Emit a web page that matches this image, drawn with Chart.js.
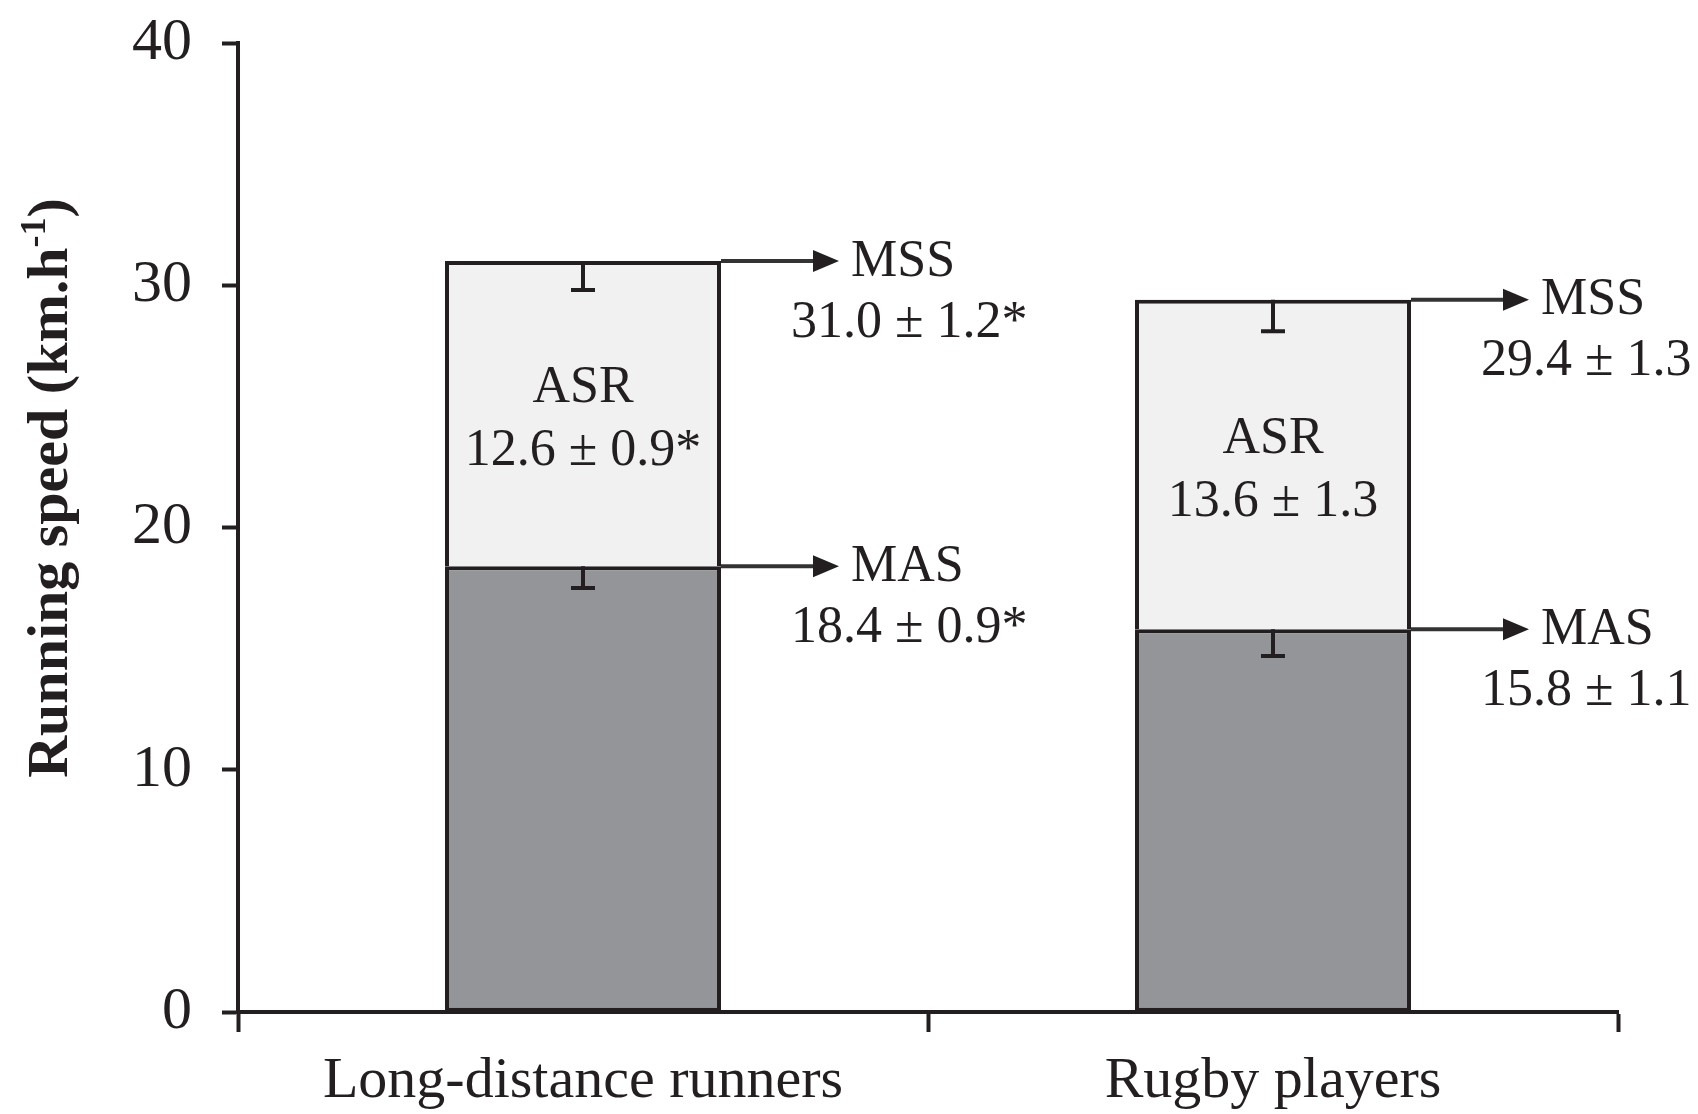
<!DOCTYPE html>
<html>
<head>
<meta charset="utf-8">
<script src="https://cdn.jsdelivr.net/npm/chart.js@4.4.1/dist/chart.umd.min.js"></script>
<style>
  html, body { margin: 0; padding: 0; background: #fff; }
  #wrap { width: 1698px; height: 1114px; }
</style>
</head>
<body>
<div id="wrap"><canvas id="chart"></canvas></div>
<script>
const categories = ['Long-distance runners', 'Rugby players'];
const masValues = [18.4, 15.8];
const asrValues = [12.6, 13.6];
const mssValues = [31.0, 29.4];
const masSd = [0.9, 1.1];
const mssSd = [1.2, 1.3];
const masLabels = ['18.4 ± 0.9*', '15.8 ± 1.1'];
const asrLabels = ['12.6 ± 0.9*', '13.6 ± 1.3'];
const mssLabels = ['31.0 ± 1.2*', '29.4 ± 1.3'];
const yTicks = [0, 10, 20, 30, 40];
const yTitle = 'Running speed (km.h';
const yTitleSup = '-1';

const ink = '#231f20';
const serif = '"Liberation Serif", "Times New Roman", serif';

function drawErrorBar(ctx, x, top, bottom) {
  ctx.beginPath();
  ctx.moveTo(x, top);
  ctx.lineTo(x, bottom);
  ctx.moveTo(x - 12, bottom);
  ctx.lineTo(x + 12, bottom);
  ctx.stroke();
}

function drawCallout(ctx, x0, y, name, valueText) {
  const tip = x0 + 118;
  ctx.strokeStyle = '#333';
  ctx.beginPath();
  ctx.moveTo(x0, y);
  ctx.lineTo(tip - 20, y);
  ctx.stroke();
  ctx.beginPath();
  ctx.moveTo(tip, y);
  ctx.lineTo(tip - 26, y - 11);
  ctx.lineTo(tip - 26, y + 11);
  ctx.closePath();
  ctx.fill();
  ctx.textAlign = 'left';
  ctx.textBaseline = 'middle';
  ctx.fillText(name, x0 + 130, y + 1);
  ctx.fillText(valueText, x0 + 70, y + 62);
}

const figureExtras = {
  id: 'figureExtras',
  afterDatasetsDraw(chart) {
    const ctx = chart.ctx;
    const yScale = chart.scales.y;
    const lowerMeta = chart.getDatasetMeta(0);
    ctx.save();
    ctx.lineWidth = 4;
    ctx.fillStyle = ink;
    ctx.font = `52px ${serif}`;
    categories.forEach((cat, i) => {
      const bar = lowerMeta.data[i];
      const cx = bar.x;
      const right = bar.x + bar.width / 2;
      const masY = yScale.getPixelForValue(masValues[i]);
      const mssY = yScale.getPixelForValue(mssValues[i]);

      ctx.strokeStyle = ink;
      drawErrorBar(ctx, cx, masY, yScale.getPixelForValue(masValues[i] - masSd[i]));
      drawErrorBar(ctx, cx, mssY, yScale.getPixelForValue(mssValues[i] - mssSd[i]));

      // ASR text inside the upper segment
      const mid = (masY + mssY) / 2;
      ctx.textAlign = 'center';
      ctx.textBaseline = 'middle';
      ctx.fillText('ASR', cx, mid - 25);
      ctx.fillText(asrLabels[i], cx, mid + 38);

      drawCallout(ctx, right, mssY, 'MSS', mssLabels[i]);
      drawCallout(ctx, right, masY, 'MAS', masLabels[i]);
    });
    ctx.restore();
  },
  afterDraw(chart) {
    // y axis title with superscript
    const ctx = chart.ctx;
    const big = `bold 58px ${serif}`;
    const small = `bold 36px ${serif}`;
    ctx.save();
    ctx.fillStyle = ink;
    ctx.font = big;
    const w1 = ctx.measureText(yTitle).width;
    const w3 = ctx.measureText(')').width;
    ctx.font = small;
    const w2 = ctx.measureText(yTitleSup).width;
    const total = w1 + w2 + w3;
    ctx.translate(67, 488 + total / 2);
    ctx.rotate(-Math.PI / 2);
    ctx.textAlign = 'left';
    ctx.textBaseline = 'alphabetic';
    ctx.font = big;
    ctx.fillText(yTitle, 0, 0);
    ctx.font = small;
    ctx.fillText(yTitleSup, w1, -22);
    ctx.font = big;
    ctx.fillText(')', w1 + w2, 0);
    ctx.restore();
  }
};

const ctx = document.getElementById('chart').getContext('2d');
new Chart(ctx, {
  type: 'bar',
  data: {
    labels: categories,
    datasets: [
      {
        label: 'MAS',
        data: masValues,
        backgroundColor: '#939598',
        borderColor: ink,
        borderWidth: 4,
        borderSkipped: false
      },
      {
        label: 'ASR',
        data: asrValues,
        backgroundColor: '#f1f1f1',
        borderColor: ink,
        borderWidth: 4,
        borderSkipped: 'bottom'
      }
    ]
  },
  options: {
    responsive: true,
    maintainAspectRatio: false,
    animation: false,
    barPercentage: 0.4,
    categoryPercentage: 1,
    layout: {
      padding: { top: 43, right: 80, left: 0, bottom: 0 }
    },
    plugins: {
      legend: { display: false },
      tooltip: { enabled: false }
    },
    scales: {
      x: {
        stacked: true,
        afterFit: (scale) => {
          scale.height = 102;
          scale.paddingLeft = 0;
          scale.paddingRight = 0;
        },
        border: { display: true, color: ink, width: 4 },
        grid: {
          display: true,
          drawOnChartArea: false,
          drawTicks: true,
          tickLength: 20,
          tickWidth: 4,
          tickColor: ink
        },
        ticks: {
          color: ink,
          padding: 15,
          font: { family: serif, size: 58 }
        }
      },
      y: {
        stacked: true,
        min: 0,
        max: 40,
        afterFit: (scale) => {
          scale.width = 238;
          scale.paddingTop = 0;
          scale.paddingBottom = 0;
        },
        afterBuildTicks: (scale) => { scale.ticks = yTicks.map(v => ({ value: v })); },
        border: { display: true, color: ink, width: 4 },
        grid: {
          display: true,
          drawOnChartArea: false,
          drawTicks: true,
          tickLength: 16,
          tickWidth: 4,
          tickColor: ink
        },
        ticks: {
          color: ink,
          padding: 30,
          font: { family: serif, size: 60 }
        }
      }
    }
  },
  plugins: [figureExtras]
});
</script>
</body>
</html>
